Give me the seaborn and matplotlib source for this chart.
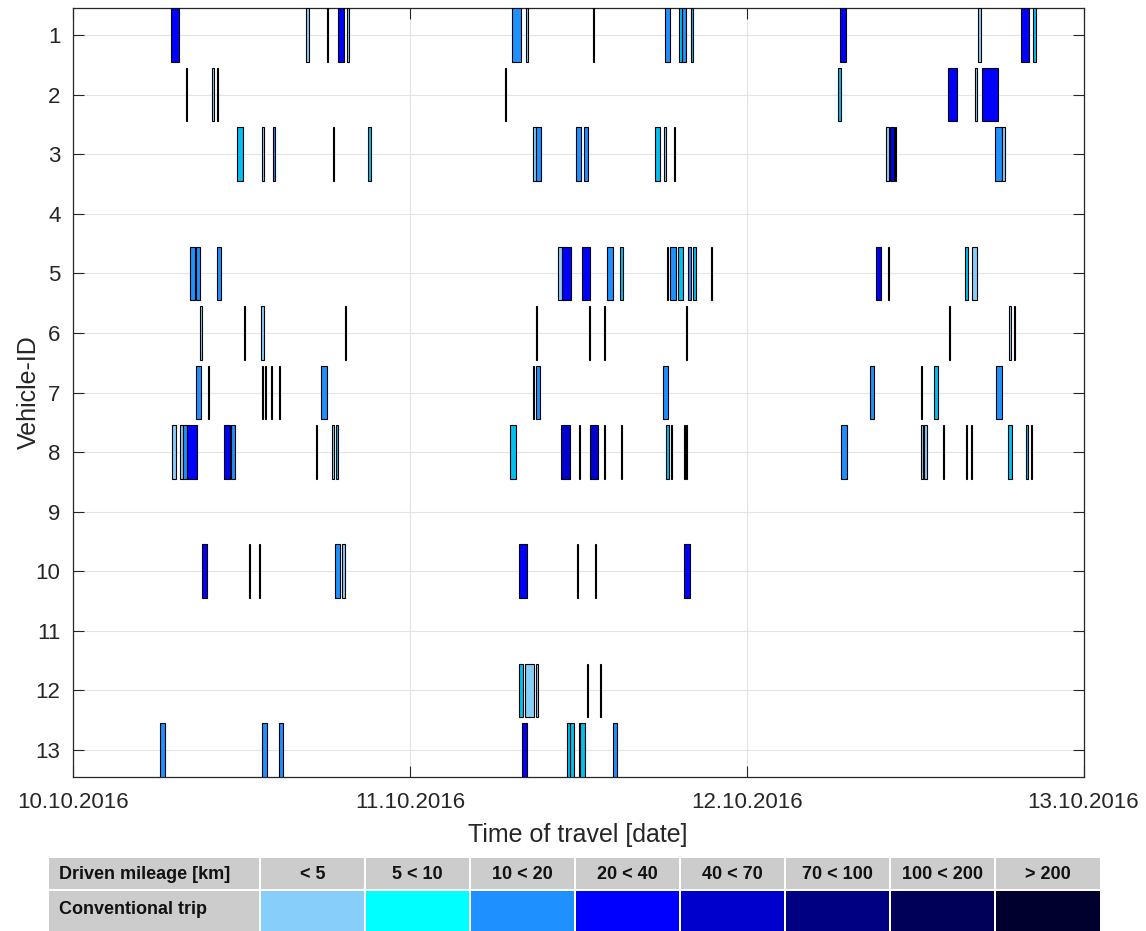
import numpy as np
import pandas as pd
import matplotlib
matplotlib.use("Agg")
import matplotlib.pyplot as plt
import matplotlib.dates as mdates
from matplotlib.patches import Rectangle
import seaborn as sns

# trips: vehicle, start (hours after 10.10.2016 00:00), duration (h), mileage class
vehicle_ids = (
    [1] * 16 + [2] * 8 + [3] * 17 + [5] * 18 + [6] * 11 + [7] * 14
    + [8] * 28 + [10] * 9 + [12] * 5 + [13] * 9
)
trip_start_h = [
    6.96, 16.63, 18.13, 18.86, 19.50, 31.26, 32.28, 37.03, 42.18, 43.18, 43.41, 44.01, 54.65, 64.48, 67.57, 68.43,
    8.05, 9.93, 10.24, 30.76, 54.53, 62.32, 64.27, 64.77,
    11.71, 13.47, 14.25, 18.52, 21.05, 32.80, 32.97, 35.84, 36.39, 41.50, 42.09, 42.85, 57.95, 58.21, 58.60, 65.72, 66.22,
    8.31, 8.74, 10.29, 34.56, 34.82, 36.27, 38.05, 38.97, 42.30, 42.57, 43.11, 43.80, 44.18, 45.44, 57.19, 58.05, 63.53, 64.05,
    9.03, 12.16, 13.42, 19.41, 32.99, 36.74, 37.81, 43.65, 62.44, 66.72, 67.05,
    8.76, 9.65, 13.49, 13.68, 14.14, 14.71, 17.67, 32.77, 32.97, 42.04, 56.79, 60.42, 61.35, 65.76,
    7.05, 7.62, 7.87, 8.12, 10.79, 11.26, 17.29, 18.45, 18.77, 31.14, 34.80, 36.05, 36.82, 37.83, 39.05, 42.23, 42.61,
    43.51, 43.70, 54.75, 60.45, 60.61, 62.02, 63.61, 64.01, 66.65, 67.88, 68.26,
    9.19, 12.52, 13.28, 18.64, 19.14, 31.78, 35.94, 37.22, 43.53,
    31.78, 32.20, 32.99, 36.65, 37.55,
    6.20, 13.47, 14.68, 31.97, 35.20, 35.44, 36.05, 36.15, 38.45,
]
trip_duration_h = [
    0.56, 0.18, 0.07, 0.43, 0.14, 0.69, 0.14, 0.07, 0.39, 0.23, 0.25, 0.17, 0.45, 0.22, 0.52, 0.16,
    0.07, 0.09, 0.07, 0.07, 0.17, 0.67, 0.14, 1.11,
    0.38, 0.17, 0.14, 0.07, 0.18, 0.17, 0.35, 0.36, 0.30, 0.35, 0.16, 0.07, 0.17, 0.32, 0.07, 0.47, 0.16,
    0.36, 0.34, 0.23, 0.26, 0.66, 0.57, 0.45, 0.20, 0.07, 0.39, 0.35, 0.26, 0.21, 0.07, 0.41, 0.07, 0.22, 0.36,
    0.16, 0.07, 0.19, 0.07, 0.08, 0.07, 0.07, 0.09, 0.08, 0.14, 0.07,
    0.39, 0.07, 0.07, 0.07, 0.07, 0.07, 0.43, 0.10, 0.30, 0.38, 0.31, 0.07, 0.28, 0.43,
    0.32, 0.22, 0.25, 0.72, 0.42, 0.31, 0.07, 0.15, 0.14, 0.45, 0.59, 0.07, 0.57, 0.07, 0.07, 0.26, 0.07,
    0.07, 0.07, 0.40, 0.11, 0.21, 0.07, 0.07, 0.07, 0.23, 0.19, 0.07,
    0.36, 0.07, 0.07, 0.36, 0.24, 0.60, 0.07, 0.07, 0.41,
    0.31, 0.62, 0.17, 0.07, 0.07,
    0.38, 0.33, 0.28, 0.36, 0.24, 0.23, 0.10, 0.30, 0.34,
]
mileage_class = [
    3, 0, 0, 3, 0, 2, 0, 0, 2, 1, 2, 1, 3, 0, 3, 1,
    0, 0, 0, 0, 1, 3, 0, 3,
    1, 0, 2, 0, 1, 0, 2, 2, 2, 1, 0, 0, 0, 3, 0, 2, 0,
    2, 2, 2, 0, 3, 3, 2, 1, 0, 2, 1, 2, 1, 0, 3, 0, 1, 0,
    0, 0, 0, 0, 0, 0, 0, 0, 0, 0, 0,
    2, 0, 0, 0, 0, 0, 2, 0, 2, 2, 2, 0, 1, 2,
    0, 0, 2, 3, 3, 2, 0, 0, 1, 1, 4, 0, 4, 0, 0, 1, 0,
    0, 0, 2, 0, 0, 0, 0, 0, 1, 1, 0,
    3, 0, 0, 2, 0, 3, 0, 0, 3,
    1, 0, 0, 0, 0,
    2, 2, 2, 3, 1, 1, 0, 1, 2,
]

class_labels = ["< 5", "5 < 10", "10 < 20", "20 < 40", "40 < 70", "70 < 100", "100 < 200", "> 200"]
class_colors = ["#87CEFA", "#00FFFF", "#1E90FF", "#0000FF", "#0000CD", "#000082", "#000058", "#00002E"]
bar_colors = ["#87CEFA", "#00C0F0", "#1E90FF", "#0000FF", "#0000CD", "#000082", "#000058", "#00002E"]
n_vehicles = 13

df = pd.DataFrame({
    "vehicle": vehicle_ids,
    "start": pd.Timestamp("2016-10-10") + pd.to_timedelta(trip_start_h, unit="h"),
    "dur_days": np.array(trip_duration_h) / 24.0,
    "cls": mileage_class,
})

sns.set_theme(style="ticks")
plt.rcParams["font.family"] = ["Liberation Sans", "DejaVu Sans"]

fig = plt.figure(figsize=(11.46, 9.31), dpi=100)
ax = fig.add_axes([73 / 1146, 1 - 776.7 / 931, (1083.5 - 73) / 1146, (776.7 - 8.3) / 931])

palette = sns.color_palette(bar_colors)
ax.barh(
    df["vehicle"],
    df["dur_days"],
    left=mdates.date2num(df["start"]),
    height=0.9,
    color=[palette[c] for c in df["cls"]],
    edgecolor="black",
    linewidth=0.8,
    zorder=3,
)

ax.set_xlim(mdates.date2num(pd.Timestamp("2016-10-10")), mdates.date2num(pd.Timestamp("2016-10-13")))
ax.set_ylim(13.45, 0.55)
ax.set_yticks(range(1, n_vehicles + 1))
ax.xaxis.set_major_locator(mdates.DayLocator())
ax.xaxis.set_major_formatter(mdates.DateFormatter("%d.%m.%Y"))
ax.grid(True, color="#E3E3E3", linewidth=0.8, zorder=0)
ax.tick_params(direction="in", length=8, width=0.8, top=True, right=True,
               labelsize=16, colors="#262626", pad=9)
ax.tick_params(axis="x", pad=11)
for s in ax.spines.values():
    s.set_color("#262626")
    s.set_linewidth(0.9)
ax.set_xlabel("Time of travel [date]", fontsize=18, color="#262626", labelpad=7)
ax.set_ylabel("Vehicle-ID", fontsize=18, color="#262626", labelpad=-4)

# legend table at the bottom
tab = fig.add_axes([0, 0, 1, 1])
tab.set_xlim(0, 1146)
tab.set_ylim(931, 0)
tab.axis("off")
col_edges = [48, 260, 365, 470, 575, 680, 785, 890, 995, 1101]
row_edges = [857, 890, 932]
gap = 1.5
for j in range(len(col_edges) - 1):
    x0, x1 = col_edges[j] + gap / 2, col_edges[j + 1] - gap / 2
    for i in range(2):
        y0, y1 = row_edges[i] + gap / 2, row_edges[i + 1] - gap / 2
        fc = "#CCCCCC" if (i == 0 or j == 0) else class_colors[j - 1]
        tab.add_patch(Rectangle((x0, y0), x1 - x0, y1 - y0, facecolor=fc, edgecolor="none"))
    if j == 0:
        tab.text(59, (row_edges[0] + row_edges[1]) / 2 + 1, "Driven mileage [km]", fontsize=13,
                 fontweight="bold", ha="left", va="center", color="#111111")
        tab.text(59, (row_edges[1] + 931) / 2 - 1, "Conventional trip", fontsize=13,
                 fontweight="bold", ha="left", va="center", color="#111111")
    else:
        tab.text((x0 + x1) / 2, (row_edges[0] + row_edges[1]) / 2 + 1, class_labels[j - 1], fontsize=13,
                 fontweight="bold", ha="center", va="center", color="#111111")

fig.savefig("out.png", dpi=100)
